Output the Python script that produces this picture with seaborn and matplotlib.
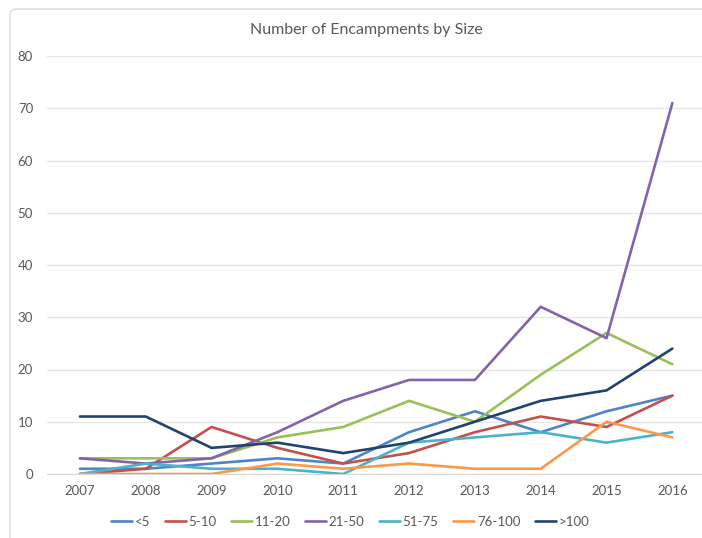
import pandas as pd
import matplotlib
matplotlib.use('Agg')
import matplotlib.pyplot as plt
import seaborn as sns
from matplotlib.patches import FancyBboxPatch

# Datos: campamentos por tamaño y año
years = [2007, 2008, 2009, 2010, 2011, 2012, 2013, 2014, 2015, 2016]
sizes = ['<5', '5-10', '11-20', '21-50', '51-75', '76-100', '>100']
lt5 = [1, 1, 2, 3, 2, 8, 12, 8, 12, 15]
s5_10 = [0, 1, 9, 5, 2, 4, 8, 11, 9, 15]
s11_20 = [3, 3, 3, 7, 9, 14, 10, 19, 27, 21]
s21_50 = [3, 2, 3, 8, 14, 18, 18, 32, 26, 71]
s51_75 = [0, 2, 1, 1, 0, 6, 7, 8, 6, 8]
s76_100 = [0, 0, 0, 2, 1, 2, 1, 1, 10, 7]
gt100 = [11, 11, 5, 6, 4, 6, 10, 14, 16, 24]
colors = ['#5083c8', '#c4504c', '#9bbf59', '#8463a8', '#4bb2cb', '#f89a4a', '#21446f']

series = [lt5, s5_10, s11_20, s21_50, s51_75, s76_100, gt100]
rows = []
for name, vals in zip(sizes, series):
    for yr, v in zip(years, vals):
        rows.append({'Year': yr, 'Size': name, 'Count': v})
df = pd.DataFrame(rows)

sns.set_style('white')
plt.rcParams['font.family'] = ['Lato', 'DejaVu Sans']

fig = plt.figure(figsize=(7.02, 5.38), dpi=100)
ax = fig.add_axes([47 / 702, 64 / 538, 1 - 47 / 702, 418 / 538])

sns.lineplot(data=df, x='Year', y='Count', hue='Size', hue_order=sizes,
             palette=dict(zip(sizes, colors)), linewidth=1.9, ax=ax)

ax.set_xlim(2006.5, 2016.45)
ax.set_ylim(0, 80)
ax.set_yticks(range(0, 81, 10))
ax.set_xticks(years)
ax.set_xlabel('')
ax.set_ylabel('')
ax.grid(axis='y', color='#e6e6e6', linewidth=1)
ax.set_axisbelow(True)
for s in ['top', 'right', 'left']:
    ax.spines[s].set_visible(False)
ax.spines['bottom'].set_color('#d9d9d9')
ax.tick_params(axis='both', length=0, labelsize=9.5, labelcolor='#595959')
ax.tick_params(axis='y', pad=10)
ax.tick_params(axis='x', pad=8)

fig.text(366 / 702, 1 - 30 / 538, 'Number of Encampments by Size',
         ha='center', va='center', fontsize=11.5, color='#595959')

handles, labels = ax.get_legend_handles_labels()
ax.legend(handles, labels, loc='center', bbox_to_anchor=(303 / 655, -0.115),
          ncol=7, frameon=False, fontsize=9.5, handlelength=1.6,
          handletextpad=0.2, columnspacing=1.1, labelcolor='#595959')

border = FancyBboxPatch((10 / 702, -0.05), 1.1, 1 - 9 / 538 + 0.05,
                        boxstyle='round,pad=0,rounding_size=0.01',
                        transform=fig.transFigure, fill=False,
                        edgecolor='#d9d9d9', linewidth=1)
fig.patches.append(border)

fig.savefig('out.png', dpi=100)
